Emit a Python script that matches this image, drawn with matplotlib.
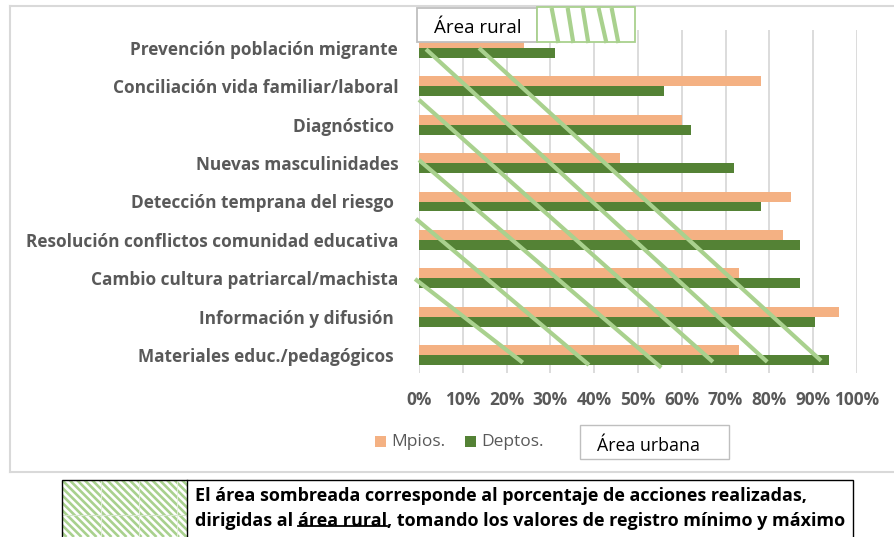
import matplotlib
matplotlib.use("Agg")
import matplotlib.pyplot as plt
import numpy as np
from matplotlib.patches import Rectangle
from matplotlib.lines import Line2D

plt.rcParams['font.family'] = ['Open Sans', 'DejaVu Sans']

categories = ["Prevención población migrante", "Conciliación vida familiar/laboral",
              "Diagnóstico ", "Nuevas masculinidades", "Detección temprana del riesgo ",
              "Resolución conflictos comunidad educativa",
              "Cambio cultura patriarcal/machista", "Información y difusión ",
              "Materiales educ./pedagógicos "]
mpios = [24, 78, 60, 46, 85, 83, 73, 96, 73]
deptos = [31, 56, 62, 72, 78, 87, 87, 90.5, 93.5]
ticks = list(range(0, 101, 10))

# rural-area hatch lines, (x0 %, cat0, x1 %, cat1)
rural_lines = [(1.6, 0.03, 79.5, 8.18), (13.7, 0.0, 91.8, 8.15),
               (0, 1.35, 67.1, 8.18), (0, 2.92, 55.3, 8.33),
               (-0.7, 4.45, 38.8, 8.26), (-0.9, 6.02, 23.7, 8.2)]

W, H = 894, 537
orange = "#f4b183"
green = "#548235"
light = "#a9d18e"
gray = "#595959"


def fx(x):
    return x / W


def fy(y):
    return 1 - y / H


fig = plt.figure(figsize=(W / 100, H / 100), dpi=100)
ax = fig.add_axes([fx(419), fy(373), fx(857) - fx(419), fy(30) - fy(373)])

pos = list(range(len(categories)))
bh = 0.26
ax.barh([p - bh / 2 for p in pos], mpios, height=bh, color=orange, zorder=2, label="Mpios.")
ax.barh([p + bh / 2 for p in pos], deptos, height=bh, color=green, zorder=2, label="Deptos.")

for x0, y0, x1, y1 in rural_lines:
    ax.plot([x0, x1], [y0, y1], color=light, lw=3, zorder=3, clip_on=False,
            solid_capstyle="butt")

ax.set_xlim(0, 100)
ax.set_ylim(8.47, -0.47)
ax.set_yticks(pos)
ax.set_yticklabels(categories, fontsize=12.4, fontweight="bold", color=gray)
ax.set_xticks(ticks)
ax.set_xticklabels([f"{t}%" for t in ticks], fontsize=12.4, fontweight="bold", color=gray)
ax.tick_params(axis="y", length=0, pad=15)
ax.tick_params(axis="x", length=0, pad=13)
ax.grid(axis="x", color="#d9d9d9", lw=1.3, zorder=0)
ax.set_axisbelow(True)
for s in ax.spines.values():
    s.set_visible(False)

# outer chart frame
fig.add_artist(Line2D([fx(10), fx(10)], [fy(6), fy(472)], color="#d9d9d9", lw=1.5))
fig.add_artist(Line2D([fx(10), 1], [fy(6), fy(6)], color="#d9d9d9", lw=1.5))
fig.add_artist(Line2D([fx(10), 1], [fy(472), fy(472)], color="#d9d9d9", lw=1.5))

# legend
for x, c, lab in [(375, orange, "Mpios."), (465, green, "Deptos.")]:
    fig.add_artist(Rectangle((fx(x), fy(447)), fx(11), 11 / H, color=c, lw=0))
    fig.text(fx(x + 16), fy(442), lab, fontsize=12.5, color=gray, va="center", ha="left")

# "Área urbana" box
fig.add_artist(Rectangle((fx(580), fy(459)), fx(149), 34 / H, fc="white", ec="#bfbfbf", lw=1))
fig.text(fx(597), fy(446), "Área urbana", fontsize=12.8, color="black", va="center")

# "Área rural" box
fig.add_artist(Rectangle((fx(417), fy(42)), fx(120), 34 / H, fc="white", ec="#bfbfbf", lw=1.3,
                         zorder=5))
fig.text(fx(434), fy(28), "Área rural", fontsize=13.5, color="black", va="center", zorder=6)
fig.add_artist(Rectangle((fx(537), fy(42)), fx(98), 35 / H, fc="white", ec=light, lw=1.3,
                         zorder=5))
for xt, xb in [(552, 558), (568, 573), (583, 588), (599, 606), (612, 618)]:
    fig.add_artist(Line2D([fx(xt), fx(xb)], [fy(10), fy(41)], color=light, lw=3, zorder=6))

# bottom note box: striped swatch cell
sw = fig.add_axes([fx(62), 0, fx(125), fy(480)])
sw.set_xlim(0, 125)
sw.set_ylim(57, 0)
sw.axis("off")
for k in np.arange(-60, 130, 7.5):
    sw.plot([k, k + 57], [0, 57], color=light, lw=1.9, solid_capstyle="butt")
sw.plot([0, 125], [35, 35], color="#d6e6cc", lw=0.8)
for sx in [39, 77, 115]:
    sw.plot([sx, sx], [0, 57], color="#e6efe0", lw=0.6)

fig.add_artist(Rectangle((fx(62), -0.05), fx(853) - fx(62), fy(480) + 0.05, fill=False,
                         ec="black", lw=1))
fig.add_artist(Line2D([fx(187), fx(187)], [0, fy(480)], color="black", lw=1))

note_size = 13
fig.text(fx(195), fy(496), "El área sombreada corresponde al porcentaje de acciones realizadas,",
         fontsize=note_size, fontweight="bold", va="center")
t1 = fig.text(fx(195), fy(521), "dirigidas al", fontsize=note_size, fontweight="bold",
              va="center")
t2 = ax.annotate("área rural", xy=(1, 0), xycoords=t1, xytext=(3.3, 0),
                 textcoords="offset points", fontsize=note_size, fontweight="bold",
                 va="bottom", ha="left", annotation_clip=False)
t3 = ax.annotate(", tomando los valores de registro mínimo y máximo", xy=(1, 0), xycoords=t2,
                 fontsize=note_size, fontweight="bold", va="bottom", ha="left",
                 annotation_clip=False)

fig.canvas.draw()
bb = t2.get_window_extent()
uy = bb.y0 + bb.height * 0.2
fig.add_artist(Line2D([bb.x0 / W, bb.x1 / W], [uy / H, uy / H], color="black", lw=1.3))

fig.savefig("out.png", dpi=100)
